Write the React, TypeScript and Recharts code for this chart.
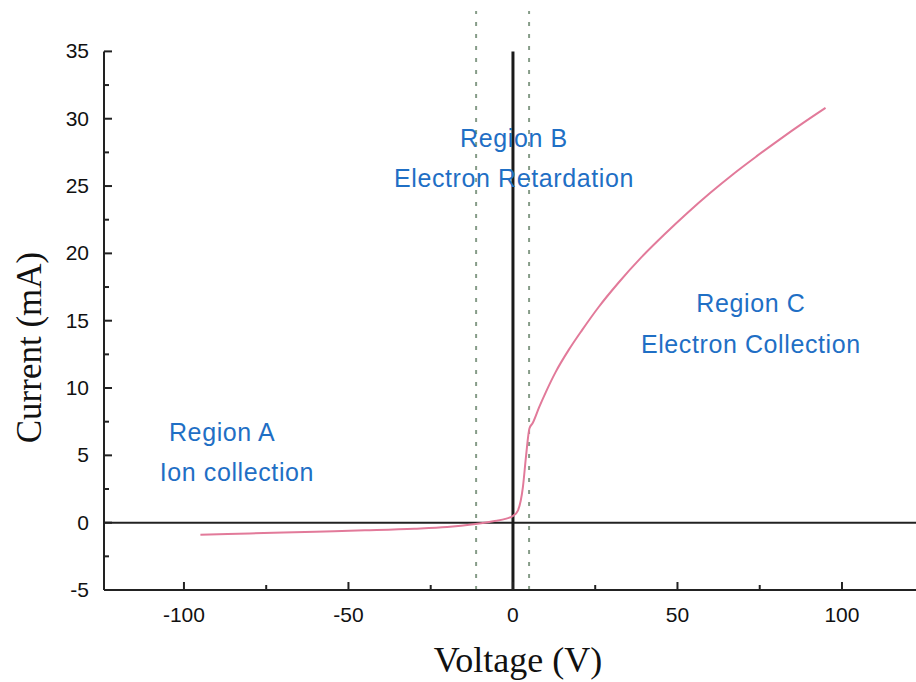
import {
  ComposedChart,
  Line,
  XAxis,
  YAxis,
  ReferenceLine,
  ReferenceDot,
} from "recharts";

// Langmuir probe I-V curve
const voltage = [-95, -80, -60, -45, -30, -20, -12, -6, -2, 0, 1.5, 3, 4, 5, 6, 8, 10, 13, 17, 21, 26, 32, 39, 46, 53, 60, 67, 74, 81, 88, 95];
const current = [-0.9, -0.8, -0.67, -0.57, -0.45, -0.32, -0.12, 0.1, 0.3, 0.5, 0.9, 2.6, 5.0, 7.0, 7.4, 8.6, 9.7, 11.2, 12.85, 14.3, 16.0, 17.8, 19.7, 21.4, 23.0, 24.5, 25.9, 27.2, 28.45, 29.65, 30.8];

const xTicks = [-100, -75, -50, -25, 0, 25, 50, 75, 100];
const yTicks = [-5, -2.5, 0, 2.5, 5, 7.5, 10, 12.5, 15, 17.5, 20, 22.5, 25, 27.5, 30, 32.5, 35];

// boundaries between the three regions (V)
const regionBounds = [-11.2, 4.9];

const notes = [
  { v: -88.4, i: 6.7, text: "Region A" },
  { v: -83.9, i: 3.8, text: "Ion collection" },
  { v: 0.3, i: 28.6, text: "Region B" },
  { v: 0.3, i: 25.6, text: "Electron Retardation" },
  { v: 72.3, i: 16.3, text: "Region C" },
  { v: 72.3, i: 13.3, text: "Electron Collection" },
];

const X_MIN = -124.3;
const X_MAX = 122.5;

const data = voltage.map((v, k) => ({ v, i: current[k] }));

const SANS = "'Liberation Sans', Arial, sans-serif";
const SERIF = "'Liberation Serif', 'Times New Roman', serif";

function XTick(props: any) {
  const { x, y, payload } = props;
  const major = payload.value % 50 === 0;
  return (
    <g>
      <line x1={x} y1={y} x2={x} y2={y - (major ? 8 : 5)} stroke="#222" strokeWidth={2} />
      {major && (
        <text x={x} y={y + 32} textAnchor="middle" fontFamily={SANS} fontSize={21} fill="#111">
          {payload.value}
        </text>
      )}
    </g>
  );
}

function YTick(props: any) {
  const { x, y, payload } = props;
  const major = payload.value % 5 === 0;
  return (
    <g>
      <line x1={x} y1={y} x2={x + (major ? 8 : 5)} y2={y} stroke="#222" strokeWidth={2} />
      {major && (
        <text x={x - 15} y={y + 7} textAnchor="end" fontFamily={SANS} fontSize={21} fill="#111">
          {payload.value}
        </text>
      )}
    </g>
  );
}

function NoteLabel({ viewBox, value }: any) {
  return (
    <text
      x={viewBox.x + viewBox.width / 2}
      y={viewBox.y + viewBox.height / 2}
      textAnchor="middle"
      dominantBaseline="central"
      fontFamily={SANS}
      fontSize={25}
      letterSpacing={0.6}
      fill="#1f6fc5"
    >
      {value}
    </text>
  );
}

export default function App() {
  return (
    <div style={{ position: "absolute", left: 0, top: 0, width: 916, height: 682, background: "#fff" }}>
      <ComposedChart width={916} height={682} data={data} margin={{ top: 11, right: 0, bottom: 0, left: 0 }}>
        <XAxis
          type="number"
          dataKey="v"
          domain={[X_MIN, X_MAX]}
          ticks={xTicks}
          allowDataOverflow
          height={92}
          tickSize={0}
          tickMargin={0}
          tickLine={false}
          axisLine={{ stroke: "#222", strokeWidth: 2 }}
          tick={<XTick />}
          label={{
            content: ({ viewBox }: any) => (
              <text
                x={viewBox.x + viewBox.width / 2 + 8}
                y={viewBox.y + 82}
                textAnchor="middle"
                fontFamily={SERIF}
                fontSize={36}
                fill="#111"
              >
                Voltage (V)
              </text>
            ),
          }}
        />
        <YAxis
          type="number"
          domain={[-5, 38]}
          ticks={yTicks}
          allowDataOverflow
          width={104}
          tickSize={0}
          tickMargin={0}
          tickLine={false}
          axisLine={false}
          tick={<YTick />}
          label={{
            content: ({ viewBox }: any) => {
              const cx = 41;
              const cy = viewBox.y + viewBox.height / 2 + 47;
              return (
                <text
                  x={cx}
                  y={cy}
                  transform={`rotate(-90 ${cx} ${cy})`}
                  textAnchor="middle"
                  fontFamily={SERIF}
                  fontSize={35}
                  fill="#111"
                >
                  Current (mA)
                </text>
              );
            },
          }}
        />
        {regionBounds.map((b) => (
          <ReferenceLine key={b} x={b} stroke="#869c88" strokeWidth={2} strokeDasharray="4 8" />
        ))}
        <ReferenceLine
          segment={[{ x: X_MIN, y: -5 }, { x: X_MIN, y: 35 }]}
          stroke="#222"
          strokeWidth={2}
        />
        <ReferenceLine y={0} stroke="#222" strokeWidth={2} />
        <ReferenceLine
          segment={[{ x: 0, y: -5 }, { x: 0, y: 35 }]}
          stroke="#1a1a1a"
          strokeWidth={3}
        />
        <Line
          type="monotone"
          dataKey="i"
          stroke="#e27a9a"
          strokeWidth={2}
          dot={false}
          isAnimationActive={false}
        />
        {notes.map((n) => (
          <ReferenceDot
            key={n.text}
            x={n.v}
            y={n.i}
            r={0}
            fill="none"
            stroke="none"
            label={{ value: n.text, content: <NoteLabel /> }}
          />
        ))}
      </ComposedChart>
    </div>
  );
}
